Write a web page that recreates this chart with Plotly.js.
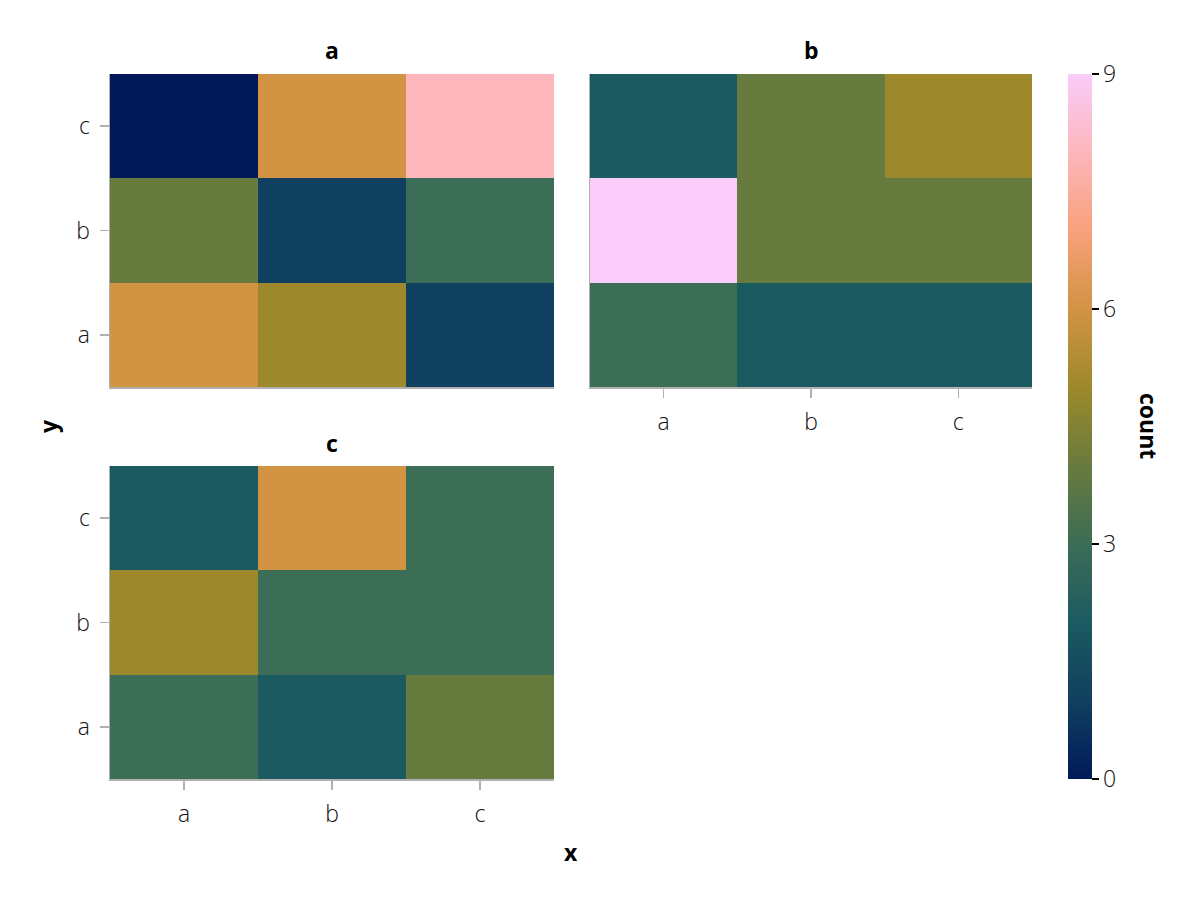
<!DOCTYPE html>
<html>
<head>
<meta charset="utf-8">
<script src="https://cdn.plot.ly/plotly-3.0.1.min.js"></script>
<style>html,body{margin:0;padding:0;background:#fff;}</style>
</head>
<body>
<div id="chart" style="width:1200px;height:900px;"></div>
<script>
// ---- data ----
const xCats = ["a", "b", "c"];
const yCats = ["a", "b", "c"];
const facetNames = ["a", "b", "c"];
// rows follow yCats (bottom to top), columns follow xCats
const zA = [[6, 5, 1], [4, 1, 3], [0, 6, 8]];
const zB = [[3, 2, 2], [9, 4, 4], [2, 4, 5]];
const zC = [[3, 2, 4], [5, 3, 3], [2, 6, 3]];
const colorTicks = [0, 3, 6, 9];

// ---- style ----
const batlow = ["#011959", "#10405F", "#1C5A62", "#3C6D56", "#687B3E",
                "#9D892B", "#D29343", "#F8A17B", "#FDB7BC", "#FACCFA"];
const colorscale = batlow.map((c, i) => [i / (batlow.length - 1), c]);
const W = 1200, H = 900;
const px = v => v / W, py = v => 1 - v / H;
const tickFont = {family: "'Open Sans', sans-serif", size: 23, color: "#111", weight: 300};
const boldFont = {family: "'Open Sans', sans-serif", size: 23, color: "#000", weight: 700};
const gray = "#b0b0b0";

function hm(z, xa, ya, show) {
  return {
    type: "heatmap", x: xCats, y: yCats, z: z, xaxis: xa, yaxis: ya,
    colorscale: colorscale, zmin: 0, zmax: 9, showscale: show, xgap: 0, ygap: 0,
    colorbar: {
      x: px(1068), xanchor: "left", y: py(74), yanchor: "top",
      len: (779 - 74) / H, lenmode: "fraction", thickness: 24, thicknessmode: "pixels",
      outlinewidth: 0, xpad: 0, ypad: 0,
      tickvals: colorTicks, ticktext: colorTicks.map(String),
      ticks: "outside", ticklen: 7, tickwidth: 2, tickcolor: "#000",
      ticklabelstandoff: 8,
      tickfont: tickFont, title: {text: ""}
    }
  };
}

function ax(domain, anchor, showLabels, extra) {
  return Object.assign({
    domain: domain, anchor: anchor, type: "category",
    range: [-0.5, 2.5], showgrid: false, zeroline: false,
    showline: true, linecolor: gray, linewidth: 1.5,
    ticks: showLabels ? "outside" : "", ticklen: 9, tickwidth: 1.5, tickcolor: gray,
    ticklabelstandoff: 5,
    showticklabels: showLabels, tickfont: tickFont, fixedrange: true
  }, extra || {});
}

const data = [
  hm(zA, "x", "y", true),
  hm(zB, "x2", "y2", false),
  hm(zC, "x3", "y3", false)
];

function label(text, x, y, angle) {
  return {text: text, x: px(x), y: py(y), xref: "paper", yref: "paper",
          xanchor: "center", yanchor: "middle", showarrow: false,
          textangle: angle || 0, font: boldFont};
}

const layout = {
  width: W, height: H,
  margin: {l: 0, r: 0, t: 0, b: 0},
  paper_bgcolor: "#fff", plot_bgcolor: "#fff",
  showlegend: false,
  xaxis:  ax([px(110), px(554)], "y", false),
  yaxis:  ax([py(387), py(74)], "x", true),
  xaxis2: ax([px(590), px(1032)], "y2", true),
  yaxis2: ax([py(387), py(74)], "x2", false),
  xaxis3: ax([px(110), px(554)], "y3", true),
  yaxis3: ax([py(779), py(466)], "x3", true),
  annotations: [
    label(facetNames[0], 332, 50),
    label(facetNames[1], 811, 50),
    label(facetNames[2], 332, 443),
    label("x", 571, 852),
    label("y", 48, 426, -90),
    label("count", 1149, 426, 90)
  ]
};

Plotly.newPlot("chart", data, layout, {displayModeBar: false, staticPlot: true});
</script>
</body>
</html>
